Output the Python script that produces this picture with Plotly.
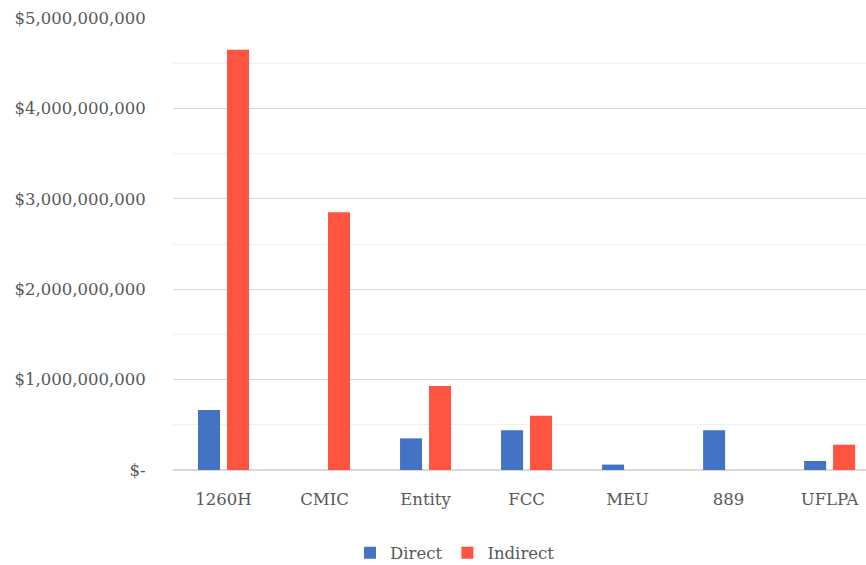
import plotly.graph_objects as go

categories = ["1260H", "CMIC", "Entity", "FCC", "MEU", "889", "UFLPA"]
direct = [0.665e9, 0, 0.35e9, 0.44e9, 0.06e9, 0.44e9, 0.10e9]
indirect = [4.65e9, 2.85e9, 0.93e9, 0.60e9, 0, 0, 0.28e9]

tick_vals = [0, 1e9, 2e9, 3e9, 4e9, 5e9]
tick_text = ["$-", "$1,000,000,000", "$2,000,000,000", "$3,000,000,000",
             "$4,000,000,000", "$5,000,000,000"]

font_family = "DejaVu Serif"
text_color = "#595959"

fig = go.Figure()
fig.add_trace(go.Bar(
    name="Direct", x=categories, y=direct,
    marker=dict(color="#4472C4", line=dict(width=0)),
))
fig.add_trace(go.Bar(
    name="Indirect", x=categories, y=indirect,
    marker=dict(color="#FF5441", line=dict(width=0)),
))

fig.update_layout(
    width=866, height=565,
    margin=dict(l=173, r=0, t=18, b=95, autoexpand=False),
    paper_bgcolor="white", plot_bgcolor="white",
    barmode="group", bargap=0.426, bargroupgap=0.24,
    font=dict(family=font_family, color=text_color, size=16.5),
    showlegend=True,
    legend=dict(orientation="h", x=455 / 866, xref="container", xanchor="center",
                y=12 / 565, yref="container", yanchor="middle", font=dict(size=16.5),
                itemwidth=30, traceorder="normal"),
)

fig.update_xaxes(
    range=[-0.5, 6.36], showgrid=False, showline=False, zeroline=False,
    ticks="outside", ticklen=14, tickcolor="rgba(0,0,0,0)",
    tickfont=dict(size=16.5, color=text_color),
)
fig.update_yaxes(
    range=[0, 5e9], tickvals=tick_vals, ticktext=tick_text,
    showgrid=True, gridcolor="#D9D9D9", gridwidth=1,
    minor=dict(dtick=5e8, showgrid=True, gridcolor="#F0F0F0", gridwidth=1),
    zeroline=True, zerolinecolor="#D9D9D9", zerolinewidth=2,
    showline=False, ticks="outside", ticklen=23, tickcolor="rgba(0,0,0,0)",
    tickfont=dict(size=16.5, color=text_color),
)

fig.write_html("out.html")
